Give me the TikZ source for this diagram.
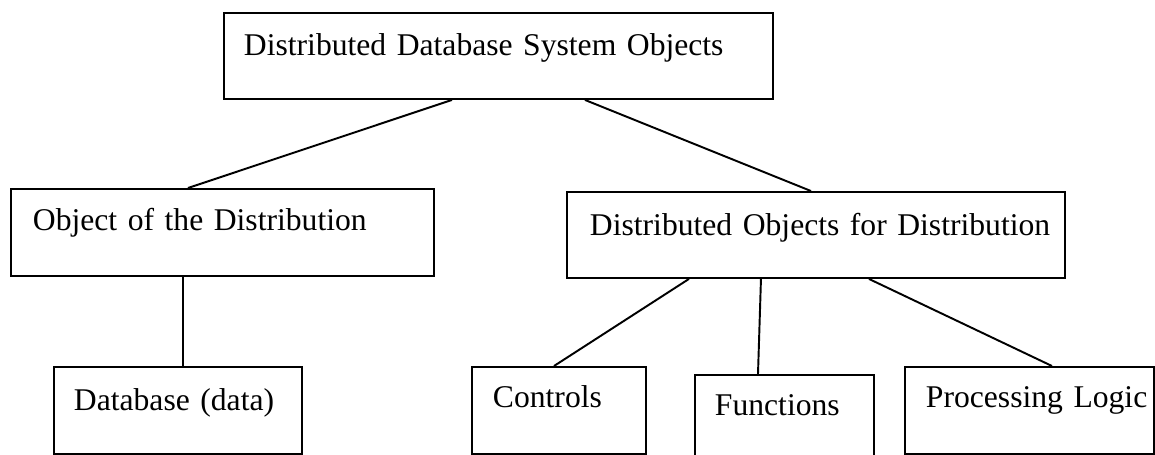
\documentclass[tikz,border=0pt]{standalone}
\usepackage{fontspec}
\setmainfont{Liberation Serif}
\usepackage{tikz}
\setlength{\parindent}{0pt}

\begin{document}
\begin{tikzpicture}[x = 0.02cm, y = -0.02cm,
        objbox/.style = {draw, line width = 1.1pt, anchor = north west, inner sep = 0pt,
            align = left, font = \fontsize{18}{22}\selectfont},
        link/.style = {line width = 1.1pt}]
        \useasboundingbox (0,0) rectangle (1155,454);
        % top level
        \node[objbox, text width = 10.98cm, text height = 0.86cm, text depth = 0.86cm] (sysobj) at (223,12) {\hspace*{0.4cm}Distributed Database System Objects};
        % second level
        \node[objbox, text width = 8.46cm, text height = 0.84cm, text depth = 0.9cm] (objdist) at (10,188) {\hspace*{0.44cm}Object of the Distribution};
        \node[objbox, text width = 9.96cm, text height = 0.88cm, text depth = 0.84cm] (dofd) at (566,191) {\hspace*{0.46cm}Distributed Objects for Distribution};
        % third level
        \node[objbox, text width = 4.96cm, text height = 0.88cm, text depth = 0.86cm] (database) at (53,366) {\hspace*{0.4cm}Database (data)};
        \node[objbox, text width = 3.48cm, text height = 0.82cm, text depth = 0.92cm] (controls) at (471,366) {\hspace*{0.42cm}Controls};
        \node[objbox, text width = 3.58cm, text height = 0.82cm, text depth = 0.92cm] (functions) at (694,374) {\hspace*{0.4cm}Functions};
        \node[objbox, text width = 4.98cm, text height = 0.82cm, text depth = 0.92cm] (proclogic) at (904,366) {\hspace*{0.42cm}Processing Logic};
        % links
        \draw[link] ([xshift = 4.58cm]sysobj.south west) -- ([xshift = 3.56cm]objdist.north west);
        \draw[link] ([xshift = 7.24cm]sysobj.south west) -- ([xshift = 4.9cm]dofd.north west);
        \draw[link] ([xshift = 3.46cm]objdist.south west) -- ([xshift = 2.6cm]database.north west);
        \draw[link] ([xshift = 2.46cm]dofd.south west) -- ([xshift = 1.66cm]controls.north west);
        \draw[link] ([xshift = 3.9cm]dofd.south west) -- ([xshift = 1.28cm]functions.north west);
        \draw[link] ([xshift = 6.06cm]dofd.south west) -- ([xshift = 2.96cm]proclogic.north west);
    \end{tikzpicture}
\end{document}
